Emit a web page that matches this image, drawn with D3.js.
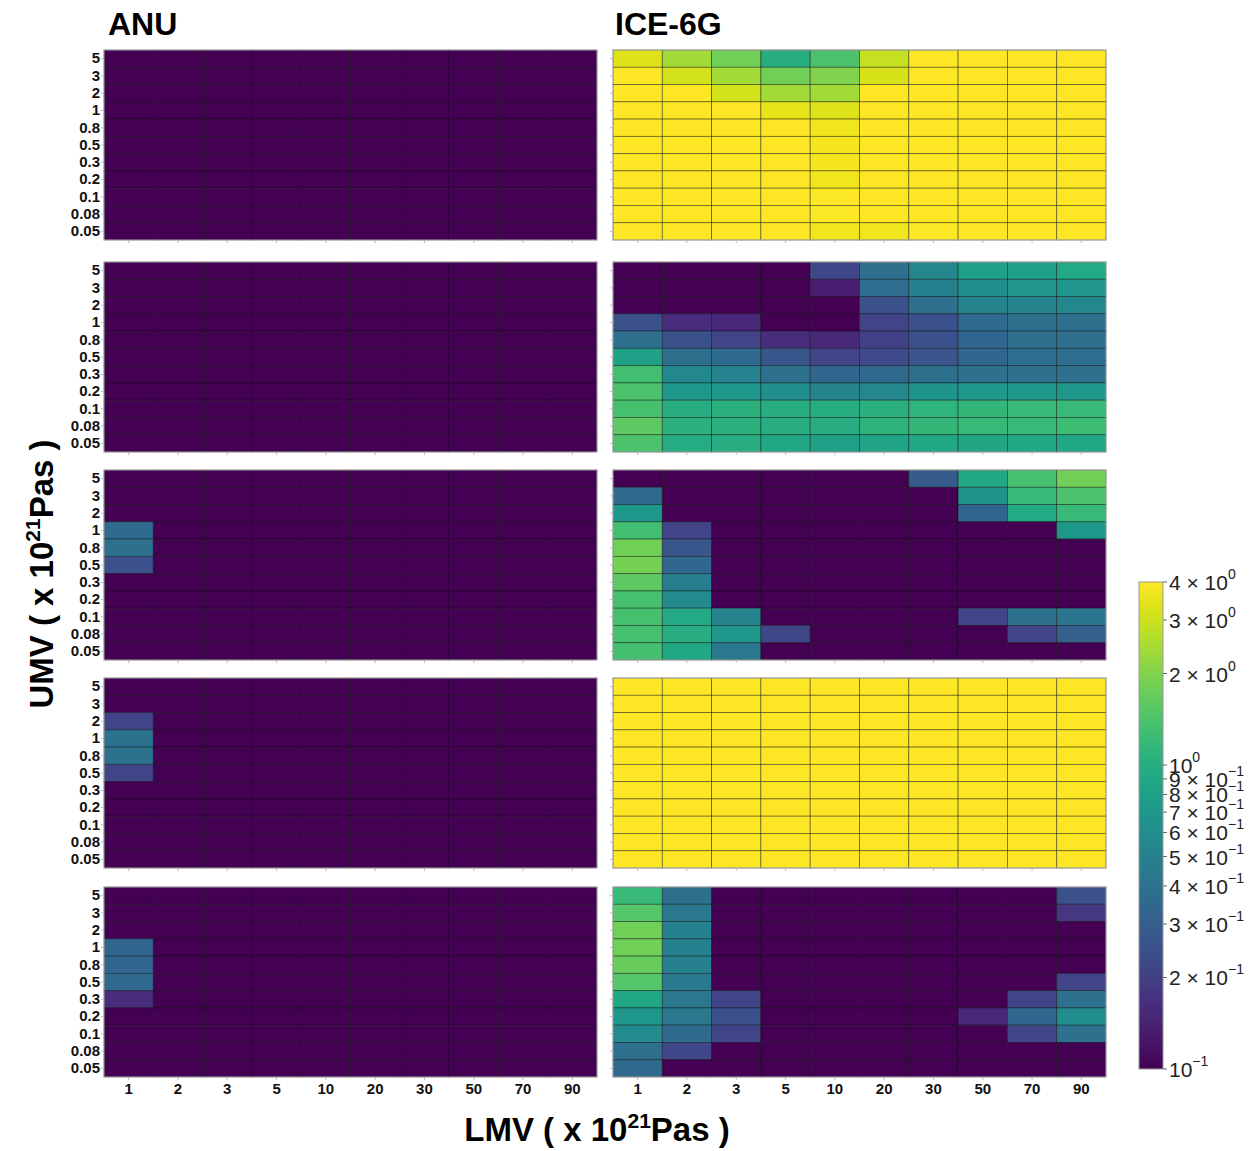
<!DOCTYPE html>
<html>
<head>
<meta charset="utf-8">
<script src="https://cdn.jsdelivr.net/npm/d3@7"></script>
<style>
  body { margin: 0; background: #fff; }
  text { font-family: "Liberation Sans", Arial, sans-serif; }
</style>
</head>
<body>
<svg id="chart" width="1250" height="1151"></svg>
<script>
// axis categories
var lmv = ["1", "2", "3", "5", "10", "20", "30", "50", "70", "90"];
var umv = ["5", "3", "2", "1", "0.8", "0.5", "0.3", "0.2", "0.1", "0.08", "0.05"];
var columnTitles = ["ANU", "ICE-6G"];
var colorTicks = [0.1, 0.2, 0.3, 0.4, 0.5, 0.6, 0.7, 0.8, 0.9, 1, 2, 3, 4];

// ANU panels, rows follow umv (top to bottom), columns follow lmv
var anu1 = [
  [0.1, 0.1, 0.1, 0.1, 0.1, 0.1, 0.1, 0.1, 0.1, 0.1],
  [0.1, 0.1, 0.1, 0.1, 0.1, 0.1, 0.1, 0.1, 0.1, 0.1],
  [0.1, 0.1, 0.1, 0.1, 0.1, 0.1, 0.1, 0.1, 0.1, 0.1],
  [0.1, 0.1, 0.1, 0.1, 0.1, 0.1, 0.1, 0.1, 0.1, 0.1],
  [0.1, 0.1, 0.1, 0.1, 0.1, 0.1, 0.1, 0.1, 0.1, 0.1],
  [0.1, 0.1, 0.1, 0.1, 0.1, 0.1, 0.1, 0.1, 0.1, 0.1],
  [0.1, 0.1, 0.1, 0.1, 0.1, 0.1, 0.1, 0.1, 0.1, 0.1],
  [0.1, 0.1, 0.1, 0.1, 0.1, 0.1, 0.1, 0.1, 0.1, 0.1],
  [0.1, 0.1, 0.1, 0.1, 0.1, 0.1, 0.1, 0.1, 0.1, 0.1],
  [0.1, 0.1, 0.1, 0.1, 0.1, 0.1, 0.1, 0.1, 0.1, 0.1],
  [0.1, 0.1, 0.1, 0.1, 0.1, 0.1, 0.1, 0.1, 0.1, 0.1]
];
var anu2 = [
  [0.1, 0.1, 0.1, 0.1, 0.1, 0.1, 0.1, 0.1, 0.1, 0.1],
  [0.1, 0.1, 0.1, 0.1, 0.1, 0.1, 0.1, 0.1, 0.1, 0.1],
  [0.1, 0.1, 0.1, 0.1, 0.1, 0.1, 0.1, 0.1, 0.1, 0.1],
  [0.1, 0.1, 0.1, 0.1, 0.1, 0.1, 0.1, 0.1, 0.1, 0.1],
  [0.1, 0.1, 0.1, 0.1, 0.1, 0.1, 0.1, 0.1, 0.1, 0.1],
  [0.1, 0.1, 0.1, 0.1, 0.1, 0.1, 0.1, 0.1, 0.1, 0.1],
  [0.1, 0.1, 0.1, 0.1, 0.1, 0.1, 0.1, 0.1, 0.1, 0.1],
  [0.1, 0.1, 0.1, 0.1, 0.1, 0.1, 0.1, 0.1, 0.1, 0.1],
  [0.1, 0.1, 0.1, 0.1, 0.1, 0.1, 0.1, 0.1, 0.1, 0.1],
  [0.1, 0.1, 0.1, 0.1, 0.1, 0.1, 0.1, 0.1, 0.1, 0.1],
  [0.1, 0.1, 0.1, 0.1, 0.1, 0.1, 0.1, 0.1, 0.1, 0.1]
];
var anu3 = [
  [0.1, 0.1, 0.1, 0.1, 0.1, 0.1, 0.1, 0.1, 0.1, 0.1],
  [0.1, 0.1, 0.1, 0.1, 0.1, 0.1, 0.1, 0.1, 0.1, 0.1],
  [0.1, 0.1, 0.1, 0.1, 0.1, 0.1, 0.1, 0.1, 0.1, 0.1],
  [0.36, 0.1, 0.1, 0.1, 0.1, 0.1, 0.1, 0.1, 0.1, 0.1],
  [0.39, 0.1, 0.1, 0.1, 0.1, 0.1, 0.1, 0.1, 0.1, 0.1],
  [0.25, 0.1, 0.1, 0.1, 0.1, 0.1, 0.1, 0.1, 0.1, 0.1],
  [0.1, 0.1, 0.1, 0.1, 0.1, 0.1, 0.1, 0.1, 0.1, 0.1],
  [0.1, 0.1, 0.1, 0.1, 0.1, 0.1, 0.1, 0.1, 0.1, 0.1],
  [0.1, 0.1, 0.1, 0.1, 0.1, 0.1, 0.1, 0.1, 0.1, 0.1],
  [0.1, 0.1, 0.1, 0.1, 0.1, 0.1, 0.1, 0.1, 0.1, 0.1],
  [0.1, 0.1, 0.1, 0.1, 0.1, 0.1, 0.1, 0.1, 0.1, 0.1]
];
var anu4 = [
  [0.1, 0.1, 0.1, 0.1, 0.1, 0.1, 0.1, 0.1, 0.1, 0.1],
  [0.1, 0.1, 0.1, 0.1, 0.1, 0.1, 0.1, 0.1, 0.1, 0.1],
  [0.21, 0.1, 0.1, 0.1, 0.1, 0.1, 0.1, 0.1, 0.1, 0.1],
  [0.4, 0.1, 0.1, 0.1, 0.1, 0.1, 0.1, 0.1, 0.1, 0.1],
  [0.4, 0.1, 0.1, 0.1, 0.1, 0.1, 0.1, 0.1, 0.1, 0.1],
  [0.21, 0.1, 0.1, 0.1, 0.1, 0.1, 0.1, 0.1, 0.1, 0.1],
  [0.1, 0.1, 0.1, 0.1, 0.1, 0.1, 0.1, 0.1, 0.1, 0.1],
  [0.1, 0.1, 0.1, 0.1, 0.1, 0.1, 0.1, 0.1, 0.1, 0.1],
  [0.1, 0.1, 0.1, 0.1, 0.1, 0.1, 0.1, 0.1, 0.1, 0.1],
  [0.1, 0.1, 0.1, 0.1, 0.1, 0.1, 0.1, 0.1, 0.1, 0.1],
  [0.1, 0.1, 0.1, 0.1, 0.1, 0.1, 0.1, 0.1, 0.1, 0.1]
];
var anu5 = [
  [0.1, 0.1, 0.1, 0.1, 0.1, 0.1, 0.1, 0.1, 0.1, 0.1],
  [0.1, 0.1, 0.1, 0.1, 0.1, 0.1, 0.1, 0.1, 0.1, 0.1],
  [0.1, 0.1, 0.1, 0.1, 0.1, 0.1, 0.1, 0.1, 0.1, 0.1],
  [0.34, 0.1, 0.1, 0.1, 0.1, 0.1, 0.1, 0.1, 0.1, 0.1],
  [0.34, 0.1, 0.1, 0.1, 0.1, 0.1, 0.1, 0.1, 0.1, 0.1],
  [0.35, 0.1, 0.1, 0.1, 0.1, 0.1, 0.1, 0.1, 0.1, 0.1],
  [0.16, 0.1, 0.1, 0.1, 0.1, 0.1, 0.1, 0.1, 0.1, 0.1],
  [0.1, 0.1, 0.1, 0.1, 0.1, 0.1, 0.1, 0.1, 0.1, 0.1],
  [0.1, 0.1, 0.1, 0.1, 0.1, 0.1, 0.1, 0.1, 0.1, 0.1],
  [0.1, 0.1, 0.1, 0.1, 0.1, 0.1, 0.1, 0.1, 0.1, 0.1],
  [0.1, 0.1, 0.1, 0.1, 0.1, 0.1, 0.1, 0.1, 0.1, 0.1]
];

// ICE-6G panels
var ice1 = [
  [3.3, 2.4, 1.8, 1.0, 1.4, 2.9, 4, 4, 4, 4],
  [4, 3.1, 2.4, 1.8, 2.0, 3.2, 4, 4, 4, 4],
  [4, 4, 3.1, 2.4, 2.4, 4, 4, 4, 4, 4],
  [4, 4, 4, 3.5, 3.3, 4, 4, 4, 4, 4],
  [4, 4, 4, 4, 3.7, 4, 4, 4, 4, 4],
  [4, 4, 4, 4, 3.8, 4, 4, 4, 4, 4],
  [4, 4, 4, 4, 3.8, 4, 4, 4, 4, 4],
  [4, 4, 4, 4, 3.7, 4, 4, 4, 4, 4],
  [4, 4, 4, 4, 3.9, 4, 4, 4, 4, 4],
  [4, 4, 4, 4, 3.9, 4, 4, 4, 4, 4],
  [4, 4, 4, 4, 3.7, 3.7, 3.9, 4, 4, 4]
];
var ice2 = [
  [0.1, 0.1, 0.1, 0.1, 0.22, 0.38, 0.55, 0.8, 0.8, 0.92],
  [0.1, 0.1, 0.1, 0.1, 0.135, 0.37, 0.5, 0.62, 0.68, 0.68],
  [0.1, 0.1, 0.1, 0.1, 0.1, 0.25, 0.39, 0.52, 0.53, 0.55],
  [0.25, 0.16, 0.15, 0.1, 0.1, 0.21, 0.25, 0.36, 0.39, 0.39],
  [0.38, 0.25, 0.21, 0.16, 0.15, 0.2, 0.25, 0.34, 0.38, 0.38],
  [0.82, 0.38, 0.36, 0.27, 0.21, 0.23, 0.26, 0.34, 0.37, 0.37],
  [1.3, 0.56, 0.51, 0.39, 0.33, 0.35, 0.38, 0.39, 0.39, 0.39],
  [1.4, 0.7, 0.7, 0.63, 0.53, 0.55, 0.67, 0.71, 0.72, 0.71],
  [1.35, 1.0, 1.05, 1.0, 0.98, 1.05, 1.1, 1.15, 1.2, 1.2],
  [1.6, 1.05, 1.05, 1.0, 1.0, 1.08, 1.15, 1.2, 1.2, 1.25],
  [1.4, 0.97, 0.99, 0.9, 0.82, 0.85, 0.9, 0.88, 0.9, 0.9]
];
var ice3 = [
  [0.1, 0.1, 0.1, 0.1, 0.1, 0.1, 0.29, 0.9, 1.35, 1.8],
  [0.35, 0.1, 0.1, 0.1, 0.1, 0.1, 0.1, 0.66, 1.2, 1.4],
  [0.72, 0.1, 0.1, 0.1, 0.1, 0.1, 0.1, 0.33, 0.93, 1.2],
  [1.3, 0.21, 0.1, 0.1, 0.1, 0.1, 0.1, 0.1, 0.1, 0.72],
  [1.8, 0.27, 0.1, 0.1, 0.1, 0.1, 0.1, 0.1, 0.1, 0.1],
  [1.85, 0.34, 0.1, 0.1, 0.1, 0.1, 0.1, 0.1, 0.1, 0.1],
  [1.6, 0.48, 0.1, 0.1, 0.1, 0.1, 0.1, 0.1, 0.1, 0.1],
  [1.35, 0.58, 0.1, 0.1, 0.1, 0.1, 0.1, 0.1, 0.1, 0.1],
  [1.35, 0.92, 0.52, 0.1, 0.1, 0.1, 0.1, 0.21, 0.39, 0.42],
  [1.35, 1.0, 0.7, 0.22, 0.1, 0.1, 0.1, 0.1, 0.21, 0.3],
  [1.33, 0.9, 0.44, 0.1, 0.1, 0.1, 0.1, 0.1, 0.1, 0.1]
];
var ice4 = [
  [4, 4, 4, 4, 4, 4, 4, 4, 4, 4],
  [4, 4, 4, 4, 4, 4, 4, 4, 4, 4],
  [4, 4, 4, 4, 4, 4, 4, 4, 4, 4],
  [4, 4, 4, 4, 4, 4, 4, 4, 4, 4],
  [4, 4, 4, 4, 4, 4, 4, 4, 4, 4],
  [4, 4, 4, 4, 4, 4, 4, 4, 4, 4],
  [4, 4, 4, 4, 4, 4, 4, 4, 4, 4],
  [4, 4, 4, 4, 4, 4, 4, 4, 4, 4],
  [4, 4, 4, 4, 4, 4, 4, 4, 4, 4],
  [4, 4, 4, 4, 4, 4, 4, 4, 4, 4],
  [4, 4, 4, 4, 4, 4, 4, 4, 4, 4]
];
var ice5 = [
  [1.2, 0.38, 0.1, 0.1, 0.1, 0.1, 0.1, 0.1, 0.1, 0.25],
  [1.5, 0.44, 0.1, 0.1, 0.1, 0.1, 0.1, 0.1, 0.1, 0.18],
  [1.8, 0.5, 0.1, 0.1, 0.1, 0.1, 0.1, 0.1, 0.1, 0.1],
  [1.8, 0.5, 0.1, 0.1, 0.1, 0.1, 0.1, 0.1, 0.1, 0.1],
  [1.7, 0.49, 0.1, 0.1, 0.1, 0.1, 0.1, 0.1, 0.1, 0.1],
  [1.5, 0.45, 0.1, 0.1, 0.1, 0.1, 0.1, 0.1, 0.1, 0.21],
  [0.9, 0.43, 0.21, 0.1, 0.1, 0.1, 0.1, 0.1, 0.21, 0.39],
  [0.72, 0.43, 0.25, 0.1, 0.1, 0.1, 0.1, 0.15, 0.34, 0.6],
  [0.58, 0.36, 0.21, 0.1, 0.1, 0.1, 0.1, 0.1, 0.21, 0.39],
  [0.38, 0.22, 0.1, 0.1, 0.1, 0.1, 0.1, 0.1, 0.1, 0.1],
  [0.35, 0.1, 0.1, 0.1, 0.1, 0.1, 0.1, 0.1, 0.1, 0.1]
];

var panels = [
  [anu1, ice1],
  [anu2, ice2],
  [anu3, ice3],
  [anu4, ice4],
  [anu5, ice5]
];

drawChart();

function drawChart() {
    var svg = d3.select("#chart");
    var colLeft = [104, 613],
        rowTop = [50, 262, 470, 678, 887],
        pw = 493,
        ph = 190;

    var color = d3.scaleSequentialLog(d3.interpolateViridis)
        .domain([0.1, 4])
        .clamp(true);

    var x = d3.scaleBand().domain(lmv).range([0, pw]);
    var y = d3.scaleBand().domain(umv).range([0, ph]);

    panels.forEach(function(row, r) {
        row.forEach(function(grid, c) {
            var g = svg.append("g")
                .attr("transform", "translate(" + colLeft[c] + "," + rowTop[r] + ")");

            var cells = [];
            grid.forEach(function(vals, i) {
                vals.forEach(function(v, j) {
                    cells.push({ u: umv[i], l: lmv[j], v: v });
                });
            });

            g.selectAll("rect.cell")
                .data(cells)
                .enter().append("rect")
                .attr("class", "cell")
                .attr("x", function(d) { return x(d.l); })
                .attr("y", function(d) { return y(d.u); })
                .attr("width", x.bandwidth())
                .attr("height", y.bandwidth())
                .attr("fill", function(d) { return color(d.v); })
                .attr("stroke", "#000")
                .attr("stroke-opacity", 0.5)
                .attr("stroke-width", 0.8);

            // frame
            g.append("rect")
                .attr("width", pw)
                .attr("height", ph)
                .attr("fill", "none")
                .attr("stroke", "#b0b0b0")
                .attr("stroke-width", 1);

            // small ticks on left and bottom
            var yAx = d3.axisLeft(y).tickSize(3).tickFormat(c == 0 ? null : "");
            var yg = g.append("g").call(yAx);
            yg.select(".domain").remove();
            yg.selectAll("line").attr("stroke", "#bbb");
            yg.selectAll("text")
                .attr("x", -4)
                .style("font-size", "15px")
                .style("font-weight", "bold")
                .attr("fill", "#111");

            var xAx = d3.axisBottom(x).tickSize(3).tickFormat(r == 4 ? null : "");
            var xg = g.append("g").attr("transform", "translate(0," + ph + ")").call(xAx);
            xg.select(".domain").remove();
            xg.selectAll("line").attr("stroke", "#bbb");
            xg.selectAll("text")
                .attr("y", 6)
                .style("font-size", "15px")
                .style("font-weight", "bold")
                .attr("fill", "#111");
        });
    });

    // column titles
    svg.selectAll("text.coltitle")
        .data(columnTitles)
        .enter().append("text")
        .attr("class", "coltitle")
        .attr("x", function(d, i) { return i == 0 ? 108 : 615; })
        .attr("y", 35)
        .style("font-size", "32px")
        .style("font-weight", "bold")
        .text(function(d) { return d; });

    // x axis title
    var xt = svg.append("text")
        .attr("x", 597)
        .attr("y", 1141)
        .attr("text-anchor", "middle")
        .style("font-size", "33px")
        .style("font-weight", "bold");
    xt.append("tspan").text("LMV ( x 10");
    xt.append("tspan").attr("dy", -13).style("font-size", "21px").text("21");
    xt.append("tspan").attr("dy", 13).text("Pas )");

    // y axis title
    var yt = svg.append("text")
        .attr("transform", "translate(53,574) rotate(-90)")
        .attr("text-anchor", "middle")
        .style("font-size", "33px")
        .style("font-weight", "bold");
    yt.append("tspan").text("UMV ( x 10");
    yt.append("tspan").attr("dy", -13).style("font-size", "21px").text("21");
    yt.append("tspan").attr("dy", 13).text("Pas )");

    // colour bar
    var cbX = 1139, cbW = 24, cbTop = 582, cbBot = 1069;
    var cy = d3.scaleLog().domain([0.1, 4]).range([cbBot, cbTop]);

    var defs = svg.append("defs");
    var grad = defs.append("linearGradient")
        .attr("id", "cbgrad")
        .attr("x1", "0").attr("y1", "1").attr("x2", "0").attr("y2", "0");
    d3.range(0, 1.0001, 0.05).forEach(function(t) {
        grad.append("stop")
            .attr("offset", t)
            .attr("stop-color", d3.interpolateViridis(t));
    });
    svg.append("rect")
        .attr("x", cbX).attr("y", cbTop)
        .attr("width", cbW).attr("height", cbBot - cbTop)
        .attr("fill", "url(#cbgrad)")
        .attr("stroke", "#999")
        .attr("stroke-width", 1);

    var cb = svg.append("g");
    cb.selectAll("line")
        .data(colorTicks)
        .enter().append("line")
        .attr("x1", cbX + cbW).attr("x2", cbX + cbW + 4)
        .attr("y1", function(d) { return cy(d); })
        .attr("y2", function(d) { return cy(d); })
        .attr("stroke", "#666");

    // labels crowd together near 10^0 just like the original
    var labels = cb.selectAll("text")
        .data(colorTicks)
        .enter().append("text")
        .attr("x", cbX + cbW + 6)
        .attr("y", function(d) { return cy(d) + 8; })
        .style("font-size", "21px")
        .attr("fill", "#222");
    labels.each(function(d) {
        var t = d3.select(this);
        var expo = d >= 1 ? 0 : -1;
        var mant = Math.round(d / Math.pow(10, expo));
        t.append("tspan").text(mant == 1 ? "10" : mant + " \u00d7 10");
        t.append("tspan").attr("dy", -11).style("font-size", "14px")
            .text(expo == 0 ? "0" : "\u22121");
    });
}
</script>
</body>
</html>
